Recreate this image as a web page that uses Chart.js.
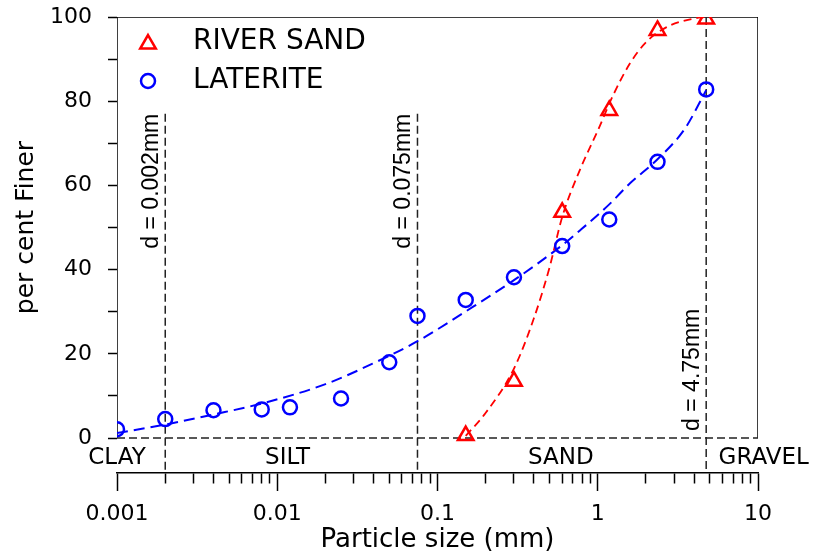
<!DOCTYPE html>
<html>
<head>
<meta charset="utf-8">
<script src="https://cdn.jsdelivr.net/npm/chart.js@4.4.1/dist/chart.umd.min.js"></script>
<style>
  body { margin: 0; background: #fff; }
  #wrap { width: 816px; height: 558px; }
</style>
</head>
<body>
<div id="wrap"><canvas id="gsd" width="816" height="558"></canvas></div>
<script>
// measured points: sieve size (mm) vs per cent finer
const sandSize = [0.15, 0.3, 0.6, 1.18, 2.36, 4.75];
const sandFiner = [0.6, 13.5, 53.6, 77.8, 96.8, 99.5];
const latSize = [0.001, 0.002, 0.004, 0.008, 0.012, 0.025, 0.05, 0.075, 0.15, 0.3, 0.6, 1.18, 2.36, 4.75];
const latFiner = [2.1, 4.5, 6.6, 6.8, 7.3, 9.4, 18.0, 29.0, 32.8, 38.2, 45.6, 51.9, 65.6, 82.8];

// dashed fit curves
const sandFitSize = [0.15, 0.2, 0.3, 0.4, 0.5, 0.6, 0.774, 1.0, 1.25, 1.59, 2.0, 2.69, 3.95, 4.75];
const sandFitFiner = [0.5, 6, 16.5, 28.5, 40.5, 52.5, 63.7, 73, 81.5, 89, 94, 97.6, 99.6, 100];
const latFitSize = [0.001, 0.002, 0.004, 0.008, 0.02, 0.04, 0.075, 0.167, 0.3, 0.6, 0.774, 1.18, 1.59, 2.36, 3.5, 4.75];
const latFitFiner = [1.2, 3.2, 5.6, 8.2, 12.8, 17.8, 23, 31.2, 37.5, 45.8, 49.3, 55.5, 60.5, 66.2, 73.5, 82.6];

// boundaries between soil classes
const refSize = [0.002, 0.075, 4.75];
const refTop = [77, 77, 100];
const refLabels = ['d = 0.002mm', 'd = 0.075mm', 'd = 4.75mm'];
const refLabelMid = [61, 61, 16.2];

const zoneNames = ['CLAY', 'SILT', 'SAND', 'GRAVEL'];
const zoneAt = [0.001, 0.0116, 0.588, 10.85];

// axes
const xDecades = [0.001, 0.01, 0.1, 1, 10];
const xDecadeLabels = ['0.001', '0.01', '0.1', '1', '10'];
const yTickValues = [0, 10, 20, 30, 40, 50, 60, 70, 80, 90, 100];
const yTickLabels = ['0', '', '20', '', '40', '', '60', '', '80', '', '100'];
const yMin = -8.3;

const xTicks = [];
xDecades.forEach((d, i) => {
    if (i === xDecades.length - 1) { xTicks.push({value: d, major: true}); return; }
    for (let m = 1; m <= 9; m++) xTicks.push({value: +(m * d).toPrecision(3), major: m === 1});
});

const pts = (xs, ys) => xs.map((x, i) => ({x: x, y: ys[i]}));

const datasets = [
    {
        label: 'RIVER SAND', legend: true,
        data: pts(sandSize, sandFiner),
        pointStyle: 'triangle', pointRadius: 9, pointBorderWidth: 2.5,
        borderColor: '#ff0000', backgroundColor: 'rgba(0,0,0,0)', borderWidth: 2.5
    },
    {
        label: 'LATERITE', legend: true,
        data: pts(latSize, latFiner),
        pointStyle: 'circle', pointRadius: 7, pointBorderWidth: 2.5,
        borderColor: '#0000ff', backgroundColor: 'rgba(0,0,0,0)', borderWidth: 2.5
    },
    {
        label: 'sand fit', data: pts(sandFitSize, sandFitFiner), showLine: true,
        pointRadius: 0, borderColor: '#ff0000', borderWidth: 1.8, borderDash: [8, 5],
        cubicInterpolationMode: 'monotone'
    },
    {
        label: 'laterite fit', data: pts(latFitSize, latFitFiner), showLine: true,
        pointRadius: 0, borderColor: '#0000ff', borderWidth: 2, borderDash: [11, 6],
        cubicInterpolationMode: 'monotone'
    }
];

refSize.forEach((s, i) => {
    datasets.push({
        label: refLabels[i], data: [{x: s, y: refTop[i]}, {x: s, y: yMin}], showLine: true,
        pointRadius: 0, borderColor: '#222', borderWidth: 1.5, borderDash: [8, 4]
    });
});

datasets.push({
    label: 'zero', data: [{x: xDecades[0], y: 0}, {x: xDecades[4], y: 0}], showLine: true,
    pointRadius: 0, borderColor: '#222', borderWidth: 1.5, borderDash: [8, 4]
});

// plot frame (left, top, right)
datasets.push({
    label: 'frame',
    data: [{x: xDecades[0], y: 0}, {x: xDecades[0], y: 100}, {x: xDecades[4], y: 100}, {x: xDecades[4], y: 0}],
    showLine: true, pointRadius: 0, borderColor: '#000', borderWidth: 1.5
});

const textPlugin = {
    id: 'gsdText',
    afterDraw(chart) {
        const ctx = chart.ctx;
        const xs = chart.scales.x, ys = chart.scales.y;
        const area = chart.chartArea;
        ctx.save();
        ctx.fillStyle = '#000';

        // y axis title, centred on 0..100
        ctx.save();
        ctx.translate(33, ys.getPixelForValue(50));
        ctx.rotate(-Math.PI / 2);
        ctx.font = "25px 'DejaVu Sans'";
        ctx.textAlign = 'center';
        ctx.textBaseline = 'alphabetic';
        ctx.fillText('per cent Finer', 0, 0);
        ctx.restore();

        // boundary labels
        refLabels.forEach((t, i) => {
            ctx.save();
            ctx.translate(xs.getPixelForValue(refSize[i]) - 7, ys.getPixelForValue(refLabelMid[i]));
            ctx.rotate(-Math.PI / 2);
            ctx.font = "23px 'Liberation Sans', Arial";
            ctx.textAlign = 'center';
            ctx.textBaseline = 'alphabetic';
            ctx.fillText(t, 0, 0);
            ctx.restore();
        });

        // soil classes
        ctx.font = "23px 'DejaVu Sans'";
        ctx.textAlign = 'center';
        ctx.textBaseline = 'middle';
        zoneNames.forEach((t, i) => {
            ctx.fillText(t, xs.getPixelForValue(zoneAt[i]), ys.getPixelForValue(-4.75));
        });

        // legend
        const items = chart.data.datasets.filter(d => d.legend);
        items.forEach((d, i) => {
            const cy = area.top + 25 + i * 39;
            const cx = area.left + 31;
            ctx.strokeStyle = d.borderColor;
            ctx.fillStyle = 'rgba(0,0,0,0)';
            ctx.lineWidth = 2.5;
            Chart.helpers.drawPoint(ctx, {
                pointStyle: d.pointStyle, radius: d.pointRadius, borderWidth: 2.5, rotation: 0
            }, cx, cy + (d.pointStyle === 'triangle' ? 2 : 0));
            ctx.fillStyle = '#000';
            ctx.font = "28px 'DejaVu Sans'";
            ctx.textAlign = 'left';
            ctx.textBaseline = 'middle';
            ctx.fillText(d.label, area.left + 76, cy);
        });
        ctx.restore();
    }
};

Chart.defaults.font.family = "'DejaVu Sans', sans-serif";
Chart.defaults.color = '#000';

const chart = new Chart(document.getElementById('gsd').getContext('2d'), {
    type: 'scatter',
    data: { datasets: datasets },
    options: {
        responsive: false,
        animation: false,
        devicePixelRatio: 1,
        layout: { padding: { left: 0, top: 17, right: 58, bottom: 0 } },
        plugins: {
            legend: { display: false },
            tooltip: { enabled: false }
        },
        scales: {
            x: {
                type: 'logarithmic',
                min: 0.001,
                max: 10,
                afterBuildTicks: s => { s.ticks = xTicks.map(t => ({value: t.value, major: t.major})); },
                afterFit: s => { s.height = 85; },
                ticks: {
                    autoSkip: false, maxRotation: 0, padding: 10,
                    font: { size: 22 }, color: '#000',
                    callback: v => {
                        const i = xDecades.findIndex(d => Math.abs(d - v) < d * 1e-6);
                        return i >= 0 ? xDecadeLabels[i] : '';
                    }
                },
                grid: {
                    drawOnChartArea: false, drawTicks: true, tickLength: 18,
                    tickColor: '#000', tickWidth: 1.5,
                    tickBorderDash: c => (c.tick && c.tick.major) ? [] : [10, 40]
                },
                border: { display: true, color: '#000', width: 1.5 },
                title: {
                    display: true, text: 'Particle size (mm)', color: '#000',
                    font: { size: 26 }, padding: { top: 0, bottom: 2 }
                }
            },
            y: {
                min: yMin,
                max: 100,
                afterBuildTicks: s => { s.ticks = yTickValues.map(v => ({value: v})); },
                afterFit: s => { s.width = 117; s.paddingTop = 0; s.paddingBottom = 0; },
                ticks: {
                    autoSkip: false, padding: 16, font: { size: 22 }, color: '#000',
                    callback: v => {
                        const i = yTickValues.indexOf(v);
                        return i >= 0 ? yTickLabels[i] : '';
                    }
                },
                grid: { drawOnChartArea: false, tickLength: 9, tickColor: '#000', tickWidth: 1.5 },
                border: { display: false }
            }
        }
    },
    plugins: [textPlugin]
});
</script>
</body>
</html>
